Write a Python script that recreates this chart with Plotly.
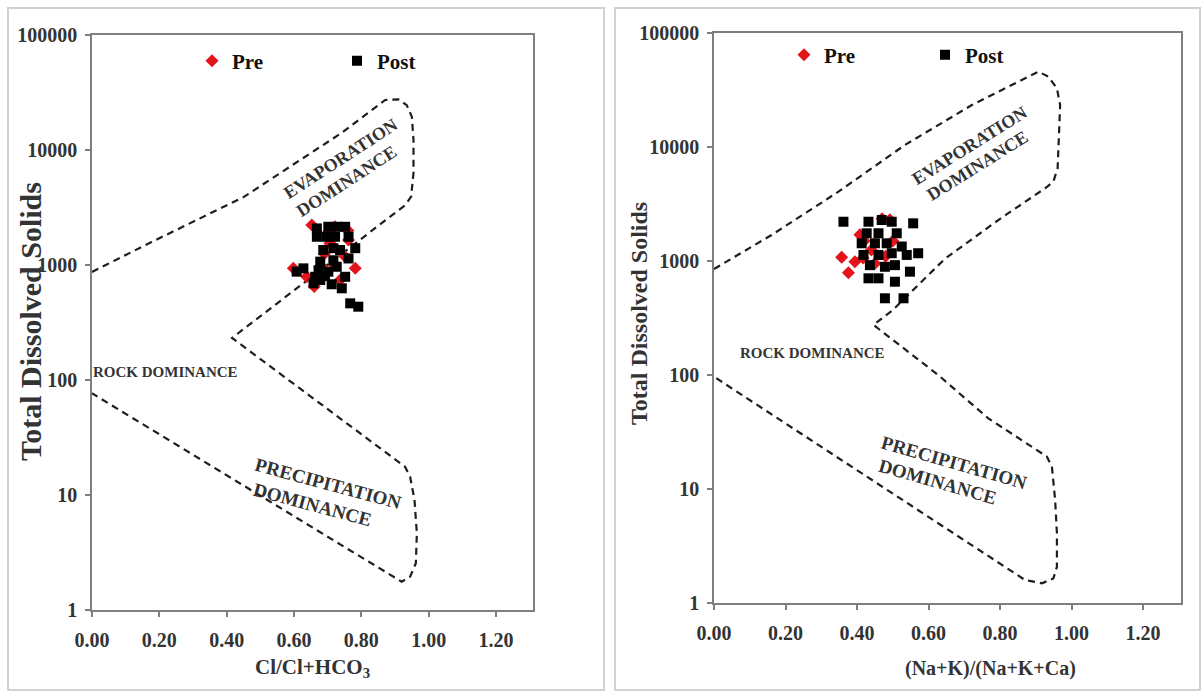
import plotly.graph_objects as go

W, H = 1204, 693
SERIF = "Liberation Serif, Times New Roman, serif"

# ---------------- data ----------------
# Left panel: Cl/(Cl+HCO3) vs TDS
pre_cl_ratio = [0.653, 0.722, 0.762, 0.707, 0.782, 0.598, 0.737, 0.638, 0.690, 0.720, 0.660, 0.700, 0.750, 0.680, 0.760]
pre_cl_tds = [2230, 2150, 1650, 1545, 935, 935, 741, 792, 1250, 1000, 650, 1900, 1200, 980, 2000]

post_cl_ratio = [0.668, 0.702, 0.727, 0.752,
                 0.668, 0.697, 0.722, 0.762,
                 0.687, 0.717, 0.737, 0.782,
                 0.678, 0.717, 0.762,
                 0.608, 0.628, 0.673, 0.702, 0.727,
                 0.663, 0.692, 0.752,
                 0.658, 0.678, 0.712,
                 0.742, 0.767, 0.791]
post_cl_tds = [2080, 2150, 2150, 2150,
               1760, 1760, 1760, 1760,
               1350, 1400, 1350, 1400,
               1070, 1100, 1140,
               875, 935, 900, 875, 965,
               790, 800, 790,
               693, 741, 680,
               627, 464, 434]

# Right panel: (Na+K)/(Na+K+Ca) vs TDS
pre_na_ratio = [0.408, 0.357, 0.376, 0.394, 0.417, 0.492, 0.470, 0.440, 0.450, 0.500, 0.420, 0.480]
pre_na_tds = [1700, 1080, 790, 985, 1060, 2300, 2350, 1250, 950, 1500, 1500, 1100]

post_na_ratio = [0.362, 0.432, 0.469, 0.497, 0.557,
                 0.427, 0.460, 0.511,
                 0.413, 0.450, 0.483, 0.525,
                 0.418, 0.460, 0.497, 0.539, 0.571,
                 0.436, 0.478, 0.506, 0.548,
                 0.432, 0.460, 0.506,
                 0.478, 0.530]
post_na_tds = [2210, 2210, 2290, 2210, 2140,
               1750, 1750, 1750,
               1430, 1430, 1430, 1340,
               1130, 1130, 1170, 1130, 1170,
               920, 890, 920, 806,
               705, 705, 658,
               471, 471]

# Gibbs boundary envelopes
boundary_cl_x = [0.0, 0.177, 0.45, 0.742, 0.871, 0.910, 0.935, 0.950, 0.955, 0.955, 0.948, 0.930,
                 0.416, 0.930, 0.945, 0.958, 0.965, 0.962, 0.945, 0.920, 0.0]
boundary_cl_tds = [871, 1585, 3890, 14125, 27230, 27540, 24550, 19500, 12220, 6310, 3930, 3310,
                   232, 17.6, 14.4, 9.06, 4.65, 2.55, 1.95, 1.76, 76.6]

boundary_na_x = [0.0, 0.161, 0.348, 0.534, 0.721, 0.907, 0.935, 0.959, 0.968, 0.965, 0.961, 0.949, 0.926,
                 0.80, 0.646, 0.50, 0.446, 0.627, 0.767, 0.931, 0.945, 0.954, 0.959, 0.959, 0.949, 0.917,
                 0.870, 0.0]
boundary_na_tds = [851, 1690, 4055, 10420, 23330, 45810, 41400, 32730, 23330, 12740, 6500, 4970, 4345,
                   2344, 1047, 372, 275, 100, 41.7, 19.2, 15.7, 8.02, 4.08, 2.08, 1.64, 1.49,
                   1.59, 96.6]

x_tick_vals = [0.0, 0.2, 0.4, 0.6, 0.8, 1.0, 1.2]
x_tick_text = ["0.00", "0.20", "0.40", "0.60", "0.80", "1.00", "1.20"]
y_tick_vals = [1, 10, 100, 1000, 10000, 100000]
y_tick_text = ["1", "10", "100", "1000", "10000", "100000"]

PRE_COLOR = "#E3151B"
POST_COLOR = "#000000"
LINE_COLOR = "#1e1e1e"
AXIS_COLOR = "#7f7f7f"
TEXT_COLOR = "#333333"


def px_x(p):
    return p / W


def px_y(p):
    return 1 - p / H


fig = go.Figure()

# boundaries
fig.add_trace(go.Scatter(x=boundary_cl_x, y=boundary_cl_tds, mode="lines",
                         line=dict(color=LINE_COLOR, width=2.2, dash="7px,5px"),
                         showlegend=False, hoverinfo="skip", xaxis="x", yaxis="y"))
fig.add_trace(go.Scatter(x=boundary_na_x, y=boundary_na_tds, mode="lines",
                         line=dict(color=LINE_COLOR, width=2.2, dash="7px,5px"),
                         showlegend=False, hoverinfo="skip", xaxis="x2", yaxis="y2"))

# left scatter
fig.add_trace(go.Scatter(x=pre_cl_ratio, y=pre_cl_tds, mode="markers", name="Pre",
                         marker=dict(symbol="diamond", size=10, color=PRE_COLOR),
                         xaxis="x", yaxis="y", legend="legend"))
fig.add_trace(go.Scatter(x=post_cl_ratio, y=post_cl_tds, mode="markers", name="Post",
                         marker=dict(symbol="square", size=10, color=POST_COLOR),
                         xaxis="x", yaxis="y", legend="legend"))
# right scatter
fig.add_trace(go.Scatter(x=pre_na_ratio, y=pre_na_tds, mode="markers", name="Pre",
                         marker=dict(symbol="diamond", size=10, color=PRE_COLOR),
                         xaxis="x2", yaxis="y2", legend="legend2"))
fig.add_trace(go.Scatter(x=post_na_ratio, y=post_na_tds, mode="markers", name="Post",
                         marker=dict(symbol="square", size=10, color=POST_COLOR),
                         xaxis="x2", yaxis="y2", legend="legend2"))

tickfont = dict(family=SERIF, size=20, color=TEXT_COLOR, weight="bold")


def xaxis_cfg(domain, rng, anchor):
    return dict(domain=domain, range=rng, anchor=anchor, tickvals=x_tick_vals, ticktext=x_tick_text,
                showline=True, linecolor=AXIS_COLOR, linewidth=1.5, mirror=True,
                ticks="outside", ticklen=5, tickcolor=AXIS_COLOR, tickwidth=1.5,
                showgrid=False, zeroline=False, tickfont=tickfont, ticklabelstandoff=6,
                automargin=False, fixedrange=True)


def yaxis_cfg(domain, anchor):
    return dict(domain=domain, type="log", range=[0, 5], anchor=anchor,
                tickvals=y_tick_vals, ticktext=y_tick_text,
                showline=True, linecolor=AXIS_COLOR, linewidth=1.5, mirror=True,
                ticks="outside", ticklen=5, tickcolor=AXIS_COLOR, tickwidth=1.5,
                showgrid=False, zeroline=False, tickfont=tickfont, ticklabelstandoff=4,
                automargin=False, fixedrange=True)


annotations = []


def add_text(text, x, y, size, angle=0):
    annotations.append(dict(text=text, x=px_x(x), y=px_y(y), xref="paper", yref="paper",
                            showarrow=False, textangle=angle, xanchor="center", yanchor="middle",
                            font=dict(family=SERIF, size=size, color=TEXT_COLOR, weight="bold")))


# axis titles
add_text("Total Dissolved Solids", 30, 322, 30, -90)
add_text("Total Dissolved Solids", 639, 314, 24, -90)
add_text("Cl/Cl+HCO<sub>3</sub>", 312, 668, 21)
add_text("(Na+K)/(Na+K+Ca)", 990, 668, 20)

# region labels, left
add_text("EVAPORATION", 340, 159, 18, -33)
add_text("DOMINANCE", 347, 181, 18, -33)
add_text("ROCK DOMINANCE", 166, 372, 15)
add_text("PRECIPITATION", 328, 483, 19, 15)
add_text("DOMINANCE", 312, 504, 19, 15)
# region labels, right
add_text("EVAPORATION", 969, 146, 18, -32)
add_text("DOMINANCE", 977, 166, 18, -32)
add_text("ROCK DOMINANCE", 812, 353, 15)
add_text("PRECIPITATION", 954, 462, 19, 16)
add_text("DOMINANCE", 937, 481, 19, 16)

shapes = [
    dict(type="rect", xref="paper", yref="paper", x0=px_x(8), x1=px_x(604), y0=px_y(690), y1=px_y(8),
         line=dict(color="#d2d2d2", width=2), layer="below"),
    dict(type="rect", xref="paper", yref="paper", x0=px_x(615), x1=px_x(1200), y0=px_y(690), y1=px_y(8),
         line=dict(color="#d2d2d2", width=2), layer="below"),
]

legend_font = dict(family=SERIF, size=21, color="#111111", weight="bold")

fig.update_layout(
    width=W, height=H, margin=dict(l=0, r=0, t=0, b=0, pad=0, autoexpand=False),
    paper_bgcolor="white", plot_bgcolor="white",
    xaxis=xaxis_cfg([px_x(92), px_x(533)], [0, 1.31], "y"),
    yaxis=yaxis_cfg([px_y(610), px_y(35)], "x"),
    xaxis2=xaxis_cfg([px_x(714), px_x(1181)], [0, 1.306], "y2"),
    yaxis2=yaxis_cfg([px_y(603), px_y(33)], "x2"),
    legend=dict(orientation="h", x=px_x(192), y=px_y(61), xanchor="left", yanchor="middle",
                font=legend_font, bgcolor="rgba(0,0,0,0)", entrywidth=100, entrywidthmode="pixels",
                itemwidth=30),
    legend2=dict(orientation="h", x=px_x(784), y=px_y(55), xanchor="left", yanchor="middle",
                 font=legend_font, bgcolor="rgba(0,0,0,0)", entrywidth=96, entrywidthmode="pixels",
                 itemwidth=30),
    annotations=annotations,
    shapes=shapes,
)

fig.write_html(
    "out.html",
    config={"displayModeBar": False, "staticPlot": False},
    post_script=("document.documentElement.style.margin='0';"
                 "document.documentElement.style.overflow='hidden';"
                 "document.body.style.margin='0';document.body.style.padding='0';"
                 "document.body.style.overflow='hidden';"),
)
